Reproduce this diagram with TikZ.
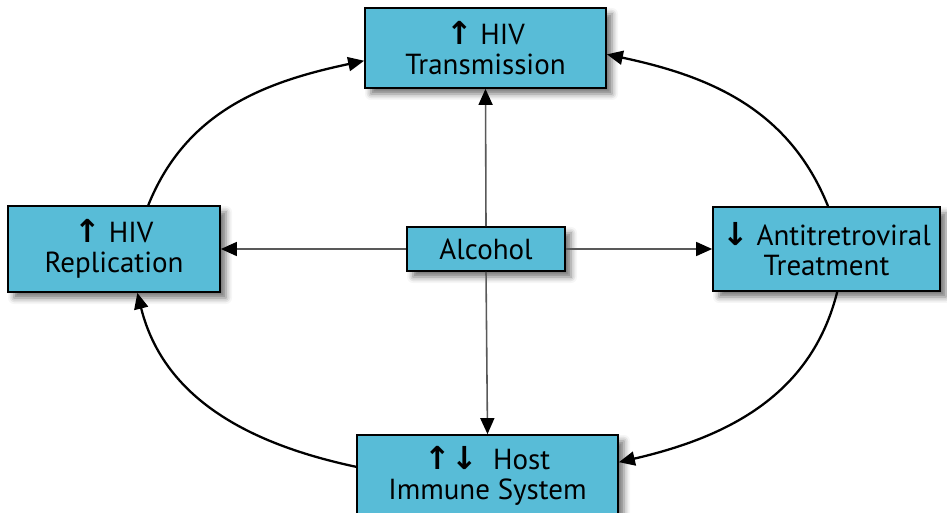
\documentclass[tikz,border=0pt]{standalone}
\usepackage{fontspec}
\setmainfont{PT Sans}
\newfontfamily\arrowfont{DejaVu Sans}
\usetikzlibrary{arrows.meta,shadows.blur}
\definecolor{boxblue}{RGB}{88,188,215}
\newcommand{\arrup}{{\arrowfont\bfseries\fontsize{18}{17}\selectfont ↑}}
\newcommand{\arrdown}{{\arrowfont\bfseries\fontsize{18}{17}\selectfont ↓}}
\tikzset{
	box/.style={draw=black, line width=1pt, fill=boxblue, align=center, inner sep=0pt,
		font=\fontsize{16.5}{17}\selectfont, text=black,
		blur shadow={shadow xshift=1.2mm, shadow yshift=-1.2mm, shadow blur radius=1.2mm, shadow opacity=55}},
	ring/.style={line width=1.3pt, -{Triangle[length=3.2mm,width=2.8mm]}},
	spoke/.style={line width=0.9pt, draw=black!65, -{Triangle[length=3.2mm,width=2.8mm,color=black]}},
}
\begin{document}
\begin{tikzpicture}
	
	\useasboundingbox (0,0) rectangle (18.94,10.24);
	
	% boxes
	\node[box, minimum width=4.82cm, minimum height=1.6cm] (trans) at (9.71,9.28) {\arrup\ HIV\\Transmission};
	\node[box, minimum width=4.24cm, minimum height=1.72cm] (repl) at (2.28,5.26) {\arrup\ HIV\\Replication};
	\node[box, minimum width=4.54cm, minimum height=1.68cm] (art) at (16.53,5.26) {\arrdown\ Antitretroviral\\Treatment};
	\node[box, minimum width=5.22cm, minimum height=1.64cm] (host) at (9.75,0.72) {\arrup\arrdown\ \ Host\\Immune System};
	\node[box, minimum width=3.16cm, minimum height=0.88cm] (alc) at (9.72,5.26) {Alcohol};
	
	% alcohol spokes
	\draw[spoke] (alc.north) -- (trans.south);
	\draw[spoke] (alc.west) -- (repl.east);
	\draw[spoke] (alc.east) -- (art.west);
	\draw[spoke] (alc.south) -- (host.north);
	
	% outer ring
	\draw[ring] (repl.52) to[out=68, in=192] (trans.186);
	\draw[ring] (art.88) to[out=112, in=-12] (trans.-3);
	\draw[ring] (art.-76) to[out=-104, in=13] (host.6);
	\draw[ring] (host.176) to[out=168, in=-76] (repl.-62);
	
\end{tikzpicture}
\end{document}
